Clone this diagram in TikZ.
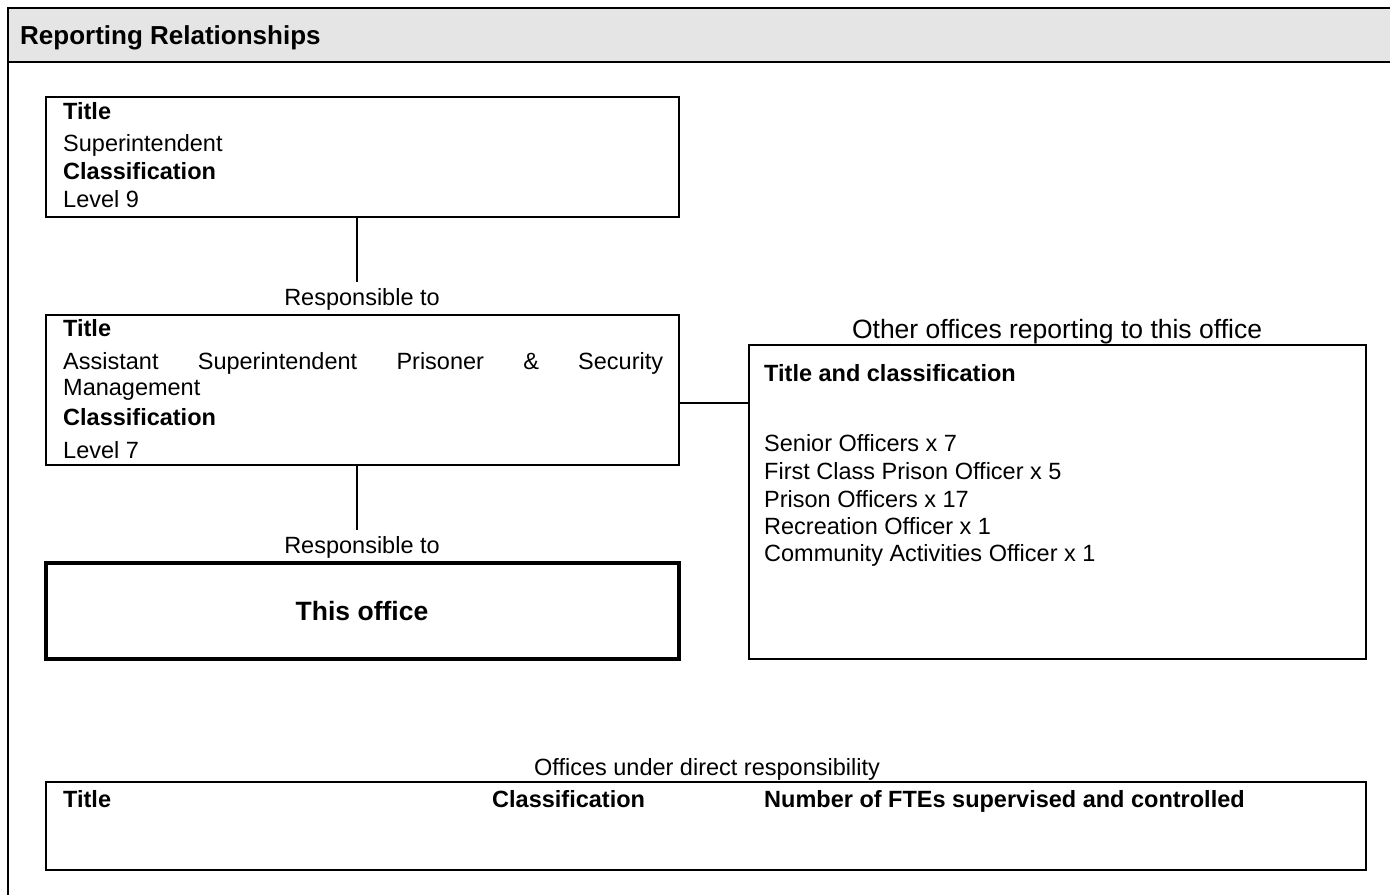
\documentclass[tikz,border=0pt]{standalone}
\usepackage{fontspec}
\setmainfont{Liberation Sans}
\begin{document}
\begin{tikzpicture}[x=1pt,y=-1pt,
  frameline/.style={line width=2pt},
  box/.style={draw, line width=1.6pt, inner sep=0pt, minimum width=633pt},
  conn/.style={line width=1.4pt},
  txt/.style={anchor=base west, inner sep=0pt, font=\fontsize{23.5}{28}\selectfont},
  btxt/.style={anchor=base west, inner sep=0pt, font=\fontsize{23.5}{28}\selectfont\bfseries},
  ctxt/.style={anchor=base, inner sep=0pt, font=\fontsize{23.5}{28}\selectfont},
  bigtxt/.style={anchor=base, inner sep=0pt, font=\fontsize{26.5}{30}\selectfont}]
\useasboundingbox (0,0) rectangle (1390,895);
% outer frame and header band
\fill[gray!20] (8,8) rectangle (1390,62);
\draw[frameline] (1390,8) -- (8,8) -- (8,895);
\draw[frameline] (8,62) -- (1390,62);
\node[anchor=base west, inner sep=0pt, font=\fontsize{26}{30}\selectfont\bfseries] (hdr) at (20,44) {Reporting Relationships};

% Superintendent box
\node[box, minimum height=120pt] (sup) at (362.5,157) {};
\node[btxt] (supT) at (63,119) {Title};
\node[txt] (supTv) at (63,151) {Superintendent};
\node[btxt] (supC) at (63,179) {Classification};
\node[txt] (supCv) at (63,207) {Level 9};

\coordinate (r1) at (357,282);
\draw[conn] (sup.south -| r1) -- (r1);
\node[ctxt] (resp1) at (362,305) {Responsible to};

% Assistant superintendent box
\node[box, minimum height=150pt] (asst) at (362.5,390) {};
\node[btxt] (asT) at (63,336) {Title};
\node[txt] (asTv) at (63,369) {\makebox[600pt][s]{Assistant\hfill Superintendent\hfill Prisoner\hfill \&\hfill Security}};
\node[txt] (asTv2) at (63,395) {Management};
\node[btxt] (asC) at (63,425) {Classification};
\node[txt] (asCv) at (63,458) {Level 7};

\coordinate (r2) at (357,530);
\draw[conn] (asst.south -| r2) -- (r2);
\node[ctxt] (resp2) at (362,553) {Responsible to};

% This office
\node[box, line width=3.5pt, minimum height=96pt] (this) at (362.5,611) {};
\node[bigtxt, font=\fontsize{26.5}{30}\selectfont\bfseries] (thisT) at (362,620) {This office};

% Other offices box
\node[bigtxt] (othH) at (1057,338) {Other offices reporting to this office};
\node[box, minimum width=617pt, minimum height=314pt] (oth) at (1057.5,502) {};
\coordinate (h) at (0,403);
\draw[conn] (asst.east |- h) -- (oth.west |- h);
\node[btxt] (othT) at (764,381) {Title and classification};
\node[txt] (o1) at (764,451) {Senior Officers x 7};
\node[txt] (o2) at (764,479) {First Class Prison Officer x 5};
\node[txt] (o3) at (764,507) {Prison Officers x 17};
\node[txt] (o4) at (764,534) {Recreation Officer x 1};
\node[txt] (o5) at (764,561) {Community Activities Officer x 1};

% Offices under direct responsibility
\node[ctxt] (undH) at (707,775) {Offices under direct responsibility};
\node[box, line width=2.2pt, minimum width=1320pt, minimum height=88pt] (tbl) at (706,826) {};
\node[btxt] (tT) at (63,807) {Title};
\node[btxt] (tC) at (492,807) {Classification};
\node[btxt] (tN) at (764,807) {Number of FTEs supervised and controlled};
\end{tikzpicture}
\end{document}
